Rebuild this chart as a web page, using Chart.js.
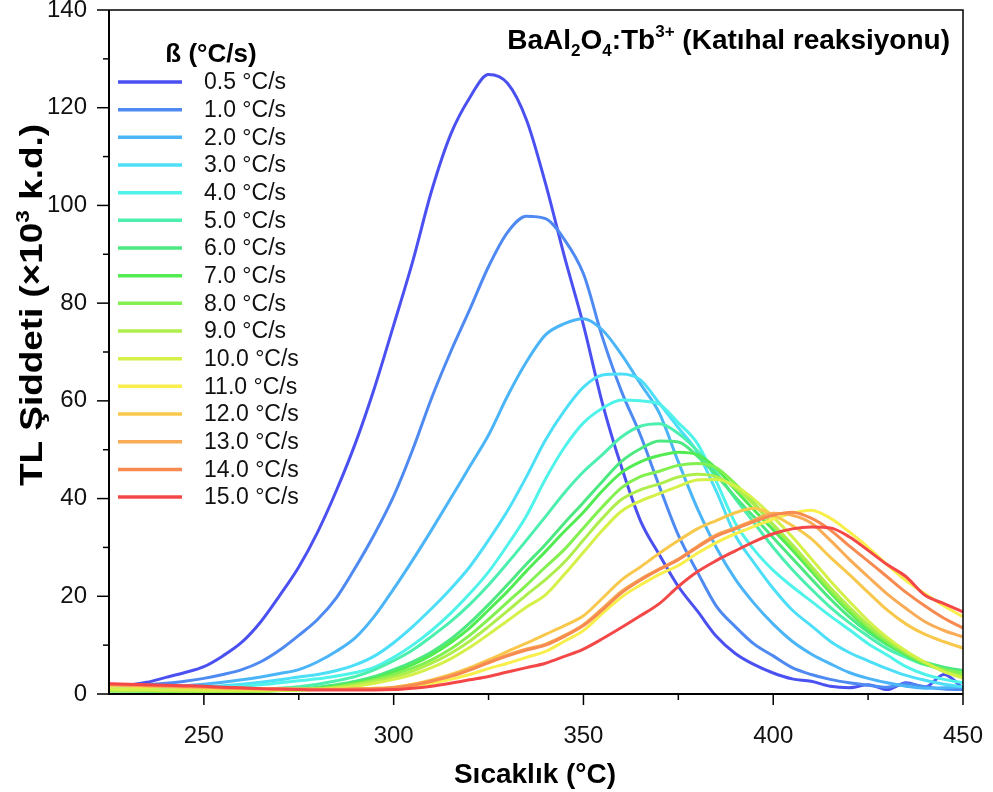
<!DOCTYPE html>
<html>
<head>
<meta charset="utf-8">
<title>BaAl2O4:Tb3+ TL</title>
<script src="https://cdn.jsdelivr.net/npm/chart.js@4.4.0/dist/chart.umd.min.js"></script>
<style>
  html, body { margin: 0; padding: 0; background: #fff; }
  #wrap { width: 993px; height: 792px; position: relative; }
</style>
</head>
<body>
<div id="wrap"><canvas id="tlChart"></canvas></div>
<script>
// TL glow curves of BaAl2O4:Tb3+ for different heating rates

const temps = [225, 230, 235, 240, 245, 250, 255, 260, 265, 270, 275, 280, 285, 290, 295, 300,
  305, 310, 315, 320, 325, 330, 335, 340, 345, 350, 355, 360, 365, 370, 375, 380,
  385, 390, 395, 400, 405, 410, 415, 420, 425, 430, 435, 440, 445, 450];

const rateLabels = ['0.5 °C/s', '1.0 °C/s', '2.0 °C/s', '3.0 °C/s', '4.0 °C/s', '5.0 °C/s',
  '6.0 °C/s', '7.0 °C/s', '8.0 °C/s', '9.0 °C/s', '10.0 °C/s', '11.0 °C/s', '12.0 °C/s',
  '13.0 °C/s', '14.0 °C/s', '15.0 °C/s'];

const rateColors = ['#4b50f0', '#4e8af2', '#4bb5f7', '#4ddff7', '#4ff3ea', '#4cefae',
  '#4ce880', '#52ec52', '#82f050', '#aeee4c', '#d5f048', '#f8ee4c', '#f8c84c',
  '#f8ac55', '#f78a50', '#f44848'];

const tl05 = [1.5, 1.8, 2.4, 3.4, 4.4, 5.6, 7.8, 10.6, 14.8, 20.2, 26.0, 33.2, 41.8, 51.5, 62.8, 75.5,
  88.5, 103.0, 114.5, 122.0, 126.8, 125.0, 117.5, 104.5, 89.5, 75.5, 59.5, 46.5, 35.5, 28.5, 22.0, 17.0,
  11.8, 8.3, 6.0, 4.3, 3.1, 2.6, 1.6, 1.3, 1.9, 0.9, 2.3, 1.4, 4.0, 1.2];
const tl10 = [1.6, 1.7, 1.9, 2.2, 2.6, 3.2, 4.0, 5.0, 6.6, 9.0, 12.0, 15.3, 19.8, 26.0, 32.8, 40.5,
  50.0, 60.6, 70.0, 78.6, 87.5, 94.5, 97.8, 97.3, 93.0, 86.0, 73.0, 62.0, 53.0, 42.5, 32.5, 25.0,
  18.0, 13.8, 10.2, 7.8, 5.4, 4.0, 3.0, 2.3, 1.8, 1.4, 2.1, 1.5, 1.0, 0.9];
const tl20 = [1.3, 1.3, 1.4, 1.5, 1.7, 2.0, 2.4, 2.9, 3.5, 4.2, 5.0, 6.6, 8.8, 11.6, 16.0, 21.5,
  27.4, 33.6, 40.0, 46.5, 53.0, 61.0, 68.0, 73.5, 75.8, 76.8, 74.5, 69.5, 63.5, 57.5, 47.5, 38.0,
  30.0, 23.5, 18.5, 14.3, 10.8, 8.2, 6.2, 4.4, 3.2, 2.3, 1.6, 1.2, 1.3, 1.5];
const tl30 = [1.1, 1.1, 1.1, 1.2, 1.3, 1.5, 1.7, 2.0, 2.4, 2.9, 3.5, 4.0, 4.8, 6.0, 7.8, 10.5,
  13.8, 17.5, 21.5, 26.0, 31.5, 37.5, 44.5, 52.0, 58.0, 62.8, 65.3, 65.5, 64.3, 59.5, 54.5, 49.5,
  41.5, 32.5, 26.8, 21.6, 17.2, 14.0, 10.8, 8.5, 6.8, 5.2, 3.8, 2.8, 2.0, 1.5];
const tl40 = [0.9, 0.9, 0.9, 1.0, 1.1, 1.2, 1.4, 1.6, 1.9, 2.3, 2.7, 3.1, 3.7, 4.4, 5.5, 7.5,
  10.0, 13.0, 16.5, 20.5, 25.0, 30.5, 36.5, 44.0, 50.5, 55.5, 58.5, 60.2, 60.0, 59.3, 55.5, 51.3,
  43.5, 35.0, 29.5, 25.3, 22.0, 19.0, 16.0, 13.2, 10.3, 8.0, 5.6, 4.0, 3.0, 2.3];
const tl50 = [0.8, 0.8, 0.8, 0.8, 0.8, 0.8, 0.8, 0.9, 1.0, 1.2, 1.5, 2.0, 2.7, 3.6, 5.0, 6.8,
  9.0, 11.8, 14.8, 18.3, 22.3, 26.8, 31.5, 36.3, 41.2, 45.5, 49.0, 52.6, 54.8, 55.3, 53.3, 49.8,
  45.3, 40.0, 35.0, 30.0, 25.5, 21.5, 17.8, 14.6, 11.8, 9.3, 7.5, 6.0, 5.2, 4.6];
const tl60 = [0.7, 0.7, 0.6, 0.6, 0.6, 0.6, 0.6, 0.6, 0.7, 0.8, 1.0, 1.4, 1.9, 2.6, 3.6, 5.0,
  6.6, 8.6, 11.2, 14.5, 18.3, 22.4, 26.6, 30.6, 35.0, 39.2, 43.5, 47.6, 50.2, 51.8, 51.6, 48.7,
  44.8, 40.3, 36.2, 32.0, 27.8, 23.6, 19.5, 15.8, 12.7, 10.1, 8.1, 6.5, 5.5, 4.8];
const tl70 = [0.6, 0.6, 0.6, 0.6, 0.6, 0.6, 0.6, 0.6, 0.6, 0.7, 0.9, 1.2, 1.7, 2.3, 3.2, 4.5,
  6.0, 8.0, 10.5, 13.5, 17.2, 21.0, 25.2, 29.2, 33.3, 37.2, 41.6, 45.3, 47.5, 48.8, 49.5, 49.0,
  46.2, 41.8, 37.6, 33.6, 29.5, 25.2, 20.8, 16.8, 13.3, 10.4, 8.0, 6.1, 4.9, 4.2];
const tl80 = [0.6, 0.6, 0.6, 0.5, 0.5, 0.5, 0.5, 0.5, 0.6, 0.7, 0.8, 1.1, 1.5, 2.1, 2.9, 4.0,
  5.3, 7.0, 9.2, 12.0, 15.3, 18.8, 22.3, 26.0, 29.6, 34.0, 38.3, 42.2, 44.5, 45.6, 46.8, 47.2,
  46.3, 43.0, 39.0, 34.6, 30.2, 25.7, 21.2, 17.2, 13.7, 10.7, 8.3, 6.3, 5.0, 4.3];
const tl90 = [0.8, 0.7, 0.7, 0.7, 0.6, 0.6, 0.6, 0.6, 0.6, 0.7, 0.8, 1.0, 1.4, 1.9, 2.6, 3.5,
  4.7, 6.3, 8.3, 10.8, 13.8, 17.0, 20.3, 23.4, 27.0, 31.5, 36.0, 39.8, 41.8, 43.0, 44.4, 45.0,
  44.5, 42.2, 38.7, 34.7, 30.6, 26.2, 21.8, 17.8, 14.2, 11.2, 8.6, 6.4, 4.6, 3.6];
const tl100 = [1.0, 0.9, 0.9, 0.8, 0.8, 0.7, 0.7, 0.7, 0.7, 0.7, 0.8, 0.9, 1.2, 1.6, 2.2, 3.0,
  4.0, 5.4, 7.2, 9.5, 12.2, 15.0, 17.8, 20.3, 24.5, 29.0, 33.5, 37.4, 39.5, 41.0, 42.5, 43.8,
  43.9, 42.6, 39.8, 36.2, 32.2, 27.7, 23.2, 19.0, 15.0, 11.6, 8.8, 6.5, 4.6, 3.2];
const tl110 = [1.6, 1.6, 1.5, 1.5, 1.4, 1.3, 1.2, 1.1, 1.0, 1.0, 0.9, 0.9, 0.9, 0.9, 1.0, 1.2,
  1.6, 2.2, 3.0, 4.0, 5.2, 6.3, 7.5, 8.7, 10.8, 13.0, 16.5, 19.8, 22.3, 24.5, 26.3, 28.8,
  31.0, 32.8, 34.3, 35.8, 37.0, 37.6, 36.0, 33.2, 30.0, 26.5, 23.2, 20.5, 18.0, 15.8];
const tl120 = [1.8, 1.7, 1.6, 1.5, 1.4, 1.3, 1.2, 1.1, 1.0, 1.0, 1.0, 1.0, 1.0, 1.1, 1.2, 1.4,
  2.0, 2.9, 4.0, 5.4, 7.0, 8.7, 10.4, 12.2, 14.0, 16.0, 19.6, 23.3, 26.0, 28.8, 31.4, 33.8,
  35.5, 37.1, 38.0, 36.6, 34.5, 31.8, 28.0, 24.5, 20.8, 17.2, 14.3, 12.2, 10.7, 9.4];
const tl130 = [1.9, 1.8, 1.7, 1.6, 1.5, 1.4, 1.3, 1.2, 1.1, 1.0, 1.0, 0.9, 0.9, 1.0, 1.1, 1.3,
  1.9, 2.7, 3.8, 5.1, 6.6, 8.0, 9.2, 10.2, 12.0, 14.2, 17.5, 21.0, 23.5, 25.6, 27.6, 30.2,
  32.6, 34.0, 35.6, 37.0, 36.6, 35.0, 31.5, 27.6, 24.0, 20.5, 17.5, 14.8, 13.0, 11.7];
const tl140 = [2.0, 1.9, 1.8, 1.7, 1.6, 1.5, 1.3, 1.2, 1.1, 1.0, 0.9, 0.9, 0.9, 1.0, 1.1, 1.3,
  1.8, 2.6, 3.6, 4.9, 6.4, 7.8, 9.0, 10.0, 11.8, 14.0, 17.2, 20.7, 23.3, 25.5, 27.5, 30.0,
  32.3, 33.8, 35.3, 36.6, 37.2, 36.0, 33.6, 30.3, 27.2, 24.0, 20.8, 18.0, 15.5, 13.5];
const tl150 = [2.1, 2.0, 1.9, 1.8, 1.7, 1.6, 1.4, 1.3, 1.1, 1.0, 0.9, 0.8, 0.8, 0.8, 0.8, 0.9,
  1.2, 1.6, 2.2, 2.9, 3.6, 4.5, 5.4, 6.3, 7.7, 9.2, 11.3, 13.6, 16.0, 18.5, 22.0, 25.0,
  27.3, 29.3, 31.2, 32.8, 33.8, 34.2, 34.0, 32.2, 29.4, 26.5, 24.0, 20.2, 18.5, 16.8];

const series = [tl05, tl10, tl20, tl30, tl40, tl50, tl60, tl70, tl80, tl90, tl100,
  tl110, tl120, tl130, tl140, tl150];

const plotBox = { left: 109, top: 10, right: 963, bottom: 694 };

const datasets = series.map((vals, i) => ({
  label: rateLabels[i],
  data: vals.map((v, k) => ({ x: temps[k], y: v })),
  borderColor: rateColors[i],
  backgroundColor: rateColors[i],
  borderWidth: 3,
  pointRadius: 0,
  cubicInterpolationMode: 'monotone',
  fill: false,
  order: series.length - i
}));

// draws text pieces with sub/superscripts, returns total width
function richText(ctx, parts, x, y, size, measureOnly) {
  let w = 0;
  parts.forEach(([txt, mode]) => {
    const fs = mode === 0 ? size : Math.round(size * 0.6);
    ctx.font = `bold ${fs}px "Liberation Sans", Arial, sans-serif`;
    const dy = mode === -1 ? size * 0.25 : (mode === 1 ? -size * 0.42 : 0);
    if (!measureOnly) ctx.fillText(txt, x + w, y + dy);
    w += ctx.measureText(txt).width;
  });
  return w;
}

const decor = {
  id: 'decor',
  beforeDraw(chart) {
    const ctx = chart.ctx;
    ctx.save();
    ctx.fillStyle = '#fff';
    ctx.fillRect(0, 0, chart.width, chart.height);
    ctx.restore();
  },
  afterDraw(chart) {
    const ctx = chart.ctx;
    const a = chart.chartArea;
    const xs = chart.scales.x, ys = chart.scales.y;
    ctx.save();
    ctx.strokeStyle = '#000';

    // frame
    ctx.lineWidth = 1.5;
    ctx.beginPath();
    ctx.moveTo(a.left, a.top); ctx.lineTo(a.right, a.top); ctx.lineTo(a.right, a.bottom);
    ctx.stroke();
    ctx.lineWidth = 2;
    ctx.beginPath();
    ctx.moveTo(a.left, a.top); ctx.lineTo(a.left, a.bottom); ctx.lineTo(a.right, a.bottom);
    ctx.stroke();

    // tick marks
    ctx.lineWidth = 1.5;
    xs.ticks.forEach(t => {
      if (t.value === 225) return;
      const px = xs.getPixelForValue(t.value);
      const len = t.value % 50 === 0 ? 11 : 6;
      ctx.beginPath(); ctx.moveTo(px, a.bottom); ctx.lineTo(px, a.bottom + len); ctx.stroke();
    });
    ys.ticks.forEach(t => {
      const py = ys.getPixelForValue(t.value);
      const len = t.value % 20 === 0 ? 12 : 6;
      ctx.beginPath(); ctx.moveTo(a.left, py); ctx.lineTo(a.left - len, py); ctx.stroke();
    });

    ctx.fillStyle = '#000';
    ctx.textBaseline = 'alphabetic';

    // axis titles
    ctx.font = 'bold 28px "Liberation Sans", Arial, sans-serif';
    ctx.textAlign = 'center';
    ctx.fillText('Sıcaklık (°C)', 535, 783);

    ctx.save();
    ctx.translate(42, 305);
    ctx.rotate(-Math.PI / 2);
    ctx.textAlign = 'left';
    const yParts = [['TL Şiddeti (×10', 0], ['3', 1], [' k.d.)', 0]];
    const yw = richText(ctx, yParts, 0, 0, 31, true);
    const stretch = 362 / yw;
    ctx.scale(stretch, 1);
    richText(ctx, yParts, -yw / 2, 0, 31, false);
    ctx.restore();

    // chart title
    ctx.textAlign = 'left';
    const tParts = [['BaAl', 0], ['2', -1], ['O', 0], ['4', -1], [':Tb', 0], ['3+', 1], [' (Katıhal reaksiyonu)', 0]];
    const tw = richText(ctx, tParts, 0, 0, 28, true);
    richText(ctx, tParts, 950 - tw, 49, 28, false);

    // legend
    ctx.font = 'bold 26px "Liberation Sans", Arial, sans-serif';
    ctx.textAlign = 'center';
    ctx.fillText('ß (°C/s)', 211, 62);
    ctx.textAlign = 'left';
    ctx.textBaseline = 'middle';
    ctx.font = '23px "Liberation Sans", Arial, sans-serif';
    chart.data.datasets.forEach((ds, i) => {
      const y = 82 + i * 27.67;
      ctx.strokeStyle = ds.borderColor;
      ctx.lineWidth = 3.5;
      ctx.beginPath(); ctx.moveTo(118, y); ctx.lineTo(182, y); ctx.stroke();
      ctx.fillStyle = '#111';
      ctx.fillText(ds.label, 204, y + 1);
    });
    ctx.restore();
  }
};

new Chart(document.getElementById('tlChart'), {
  type: 'line',
  data: { datasets: datasets },
  options: {
    responsive: true,
    maintainAspectRatio: false,
    animation: false,
    layout: { padding: { left: 0, top: plotBox.top, right: 993 - plotBox.right, bottom: 0 } },
    plugins: { legend: { display: false }, tooltip: { enabled: false } },
    scales: {
      x: {
        type: 'linear',
        min: 225,
        max: 450,
        afterFit: s => { s.height = 792 - plotBox.bottom; s.paddingLeft = 0; s.paddingRight = 0; },
        border: { display: false },
        grid: { color: 'transparent', drawOnChartArea: false, drawTicks: true, tickLength: 11 },
        ticks: {
          stepSize: 25,
          autoSkip: false,
          maxRotation: 0,
          padding: 17,
          color: '#111',
          font: { family: '"Liberation Sans", Arial, sans-serif', size: 24 },
          callback: v => (v % 50 === 0 ? v : '')
        }
      },
      y: {
        min: 0,
        max: 140,
        afterFit: s => { s.width = plotBox.left; s.paddingTop = 0; s.paddingBottom = 0; },
        border: { display: false },
        grid: { color: 'transparent', drawOnChartArea: false, drawTicks: true, tickLength: 12 },
        ticks: {
          stepSize: 10,
          autoSkip: false,
          padding: 10,
          color: '#111',
          font: { family: '"Liberation Sans", Arial, sans-serif', size: 24 },
          callback: v => (v % 20 === 0 ? v : '')
        }
      }
    }
  },
  plugins: [decor]
});
</script>
</body>
</html>
